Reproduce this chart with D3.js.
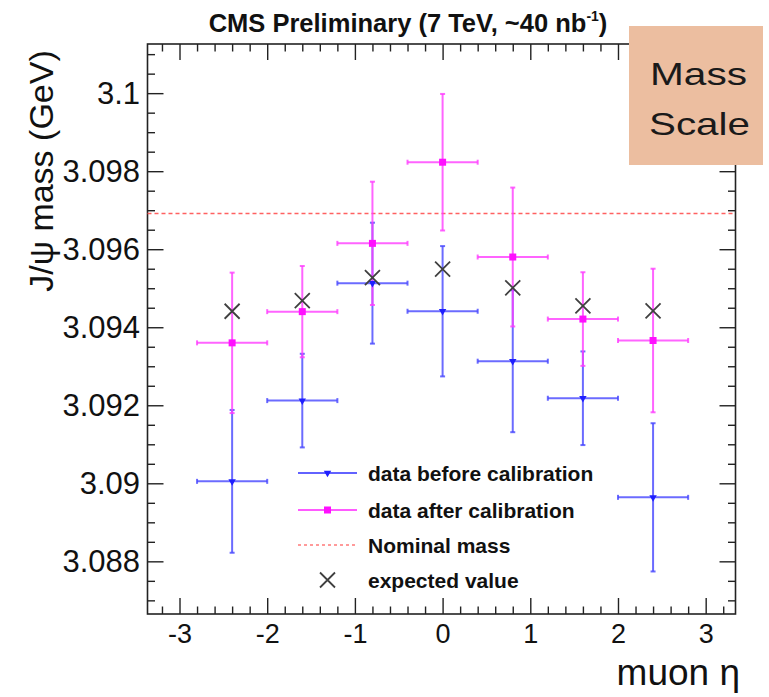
<!DOCTYPE html>
<html>
<head>
<meta charset="utf-8">
<script src="https://cdn.jsdelivr.net/npm/d3@7"></script>
<style>
  html, body { margin: 0; padding: 0; background: #fff; }
  svg { display: block; }
  text { font-family: "Liberation Sans", Arial, Helvetica, sans-serif; }
</style>
</head>
<body>
<div id="chart"></div>
<script>
// ---------------- data ----------------
const eta = [-2.4, -1.6, -0.8, 0, 0.8, 1.6, 2.4];
const etaHalfWidth = [0.4, 0.4, 0.4, 0.4, 0.4, 0.4, 0.4];
const massBefore = [3.09005, 3.09212, 3.09513, 3.09441, 3.09313, 3.09218, 3.08964];
const massBeforeErr = [0.00183, 0.0012, 0.00155, 0.00167, 0.00182, 0.0012, 0.0019];
const massAfter = [3.09360, 3.09440, 3.09615, 3.09823, 3.09580, 3.09421, 3.09366];
const massAfterErr = [0.0018, 0.00117, 0.00158, 0.00175, 0.00178, 0.0012, 0.00184];
const massExpected = [3.09441, 3.09468, 3.09527, 3.09549, 3.09501, 3.09455, 3.09442];
const nominalMass = 3.096916;
const yTicks = [3.088, 3.09, 3.092, 3.094, 3.096, 3.098, 3.1];
const yTickLabels = ["3.088", "3.09", "3.092", "3.094", "3.096", "3.098", "3.1"];
const xTicks = [-3, -2, -1, 0, 1, 2, 3];
const xTickLabels = ["-3", "-2", "-1", "0", "1", "2", "3"];
const legendLabels = ["data before calibration", "data after calibration", "Nominal mass", "expected value"];

// ---------------- layout ----------------
const W = 769, H = 697;
const L = 147.5, R = 735.5, T = 44, B = 614;
const blue = "#4646ff", pink = "#ff3dff", red = "#ff5050", xcol = "#404040";

const svg = d3.select("#chart").append("svg").attr("width", W).attr("height", H);

const x = d3.scaleLinear().domain([-3.365, 3.34]).range([L, R]);
const y = d3.scaleLinear().domain([3.08665, 3.10126]).range([B, T]);

// minor ticks
const yMinor = d3.range(3.0870, 3.1012, 0.0005).filter(v => !yTicks.some(t => Math.abs(t - v) < 1e-7));
const xMinor = d3.range(-3.2, 3.35, 0.2).filter(v => !xTicks.some(t => Math.abs(t - v) < 1e-7));

function styleAxis(g) {
  g.select(".domain").remove();
  g.selectAll(".tick line").attr("stroke", "#222").attr("stroke-width", 1.4);
}

// Left axis (major, labels)
svg.append("g").attr("transform", `translate(${L},0)`)
  .call(d3.axisLeft(y).tickValues(yTicks).tickSize(-16).tickPadding(7.5)
    .tickFormat((d, i) => yTickLabels[i]))
  .call(styleAxis)
  .call(g => g.selectAll("text").attr("font-size", 31).attr("fill", "#111")
    .attr("font-family", "'Liberation Sans', Arial, sans-serif"));
svg.append("g").attr("transform", `translate(${L},0)`)
  .call(d3.axisLeft(y).tickValues(yMinor).tickSize(-7.5).tickFormat(""))
  .call(styleAxis);
// Right axis
svg.append("g").attr("transform", `translate(${R},0)`)
  .call(d3.axisRight(y).tickValues(yTicks).tickSize(-16).tickFormat(""))
  .call(styleAxis);
svg.append("g").attr("transform", `translate(${R},0)`)
  .call(d3.axisRight(y).tickValues(yMinor).tickSize(-7.5).tickFormat(""))
  .call(styleAxis);
// Bottom axis
svg.append("g").attr("transform", `translate(0,${B})`)
  .call(d3.axisBottom(x).tickValues(xTicks).tickSize(-16).tickPadding(10)
    .tickFormat((d, i) => xTickLabels[i]))
  .call(styleAxis)
  .call(g => g.selectAll("text").attr("font-size", 27).attr("fill", "#111")
    .attr("font-family", "'Liberation Sans', Arial, sans-serif"));
svg.append("g").attr("transform", `translate(0,${B})`)
  .call(d3.axisBottom(x).tickValues(xMinor).tickSize(-7.5).tickFormat(""))
  .call(styleAxis);
// Top axis
svg.append("g").attr("transform", `translate(0,${T})`)
  .call(d3.axisTop(x).tickValues(xTicks).tickSize(-16).tickFormat(""))
  .call(styleAxis);
svg.append("g").attr("transform", `translate(0,${T})`)
  .call(d3.axisTop(x).tickValues(xMinor).tickSize(-7.5).tickFormat(""))
  .call(styleAxis);

// frame
svg.append("rect").attr("x", L).attr("y", T).attr("width", R - L).attr("height", B - T)
  .attr("fill", "none").attr("stroke", "#222").attr("stroke-width", 1.6);

// nominal mass line
svg.append("line").attr("x1", L).attr("x2", R).attr("y1", y(nominalMass)).attr("y2", y(nominalMass))
  .attr("stroke", red).attr("stroke-width", 1.6).attr("stroke-dasharray", "4,3").attr("opacity", 0.9);

// error bars
function errorBars(vals, errs, color, cls) {
  const g = svg.append("g").attr("class", cls).attr("stroke", color).attr("stroke-width", 2).attr("stroke-opacity", 0.8);
  const cap = 2.5;
  eta.forEach((e, i) => {
    const cx = x(e), cy = y(vals[i]);
    const x0 = x(e - etaHalfWidth[i]), x1 = x(e + etaHalfWidth[i]);
    const yt = y(vals[i] + errs[i]), yb = y(vals[i] - errs[i]);
    g.append("line").attr("x1", x0).attr("x2", x1).attr("y1", cy).attr("y2", cy);
    g.append("line").attr("x1", cx).attr("x2", cx).attr("y1", yt).attr("y2", yb);
    g.append("line").attr("x1", x0).attr("x2", x0).attr("y1", cy - cap).attr("y2", cy + cap);
    g.append("line").attr("x1", x1).attr("x2", x1).attr("y1", cy - cap).attr("y2", cy + cap);
    g.append("line").attr("x1", cx - cap).attr("x2", cx + cap).attr("y1", yt).attr("y2", yt);
    g.append("line").attr("x1", cx - cap).attr("x2", cx + cap).attr("y1", yb).attr("y2", yb);
  });
}
errorBars(massBefore, massBeforeErr, blue, "before");
errorBars(massAfter, massAfterErr, pink, "after");

const triDown = d3.symbol().type(d3.symbolTriangle).size(24);
function drawTri(g, cx, cy) {
  g.append("path").attr("d", triDown()).attr("transform", `translate(${cx},${cy}) rotate(180)`)
    .attr("fill", "#1f1fff");
}
function drawSq(g, cx, cy) {
  g.append("rect").attr("x", cx - 3.5).attr("y", cy - 3.5).attr("width", 7).attr("height", 7).attr("fill", "#ff10ff");
}
function drawX(g, cx, cy) {
  const s = 7.5;
  g.append("path").attr("d", `M${cx - s},${cy - s}L${cx + s},${cy + s}M${cx - s},${cy + s}L${cx + s},${cy - s}`)
    .attr("stroke", xcol).attr("stroke-width", 1.8).attr("fill", "none");
}
const markers = svg.append("g");
eta.forEach((e, i) => drawTri(markers, x(e), y(massBefore[i])));
eta.forEach((e, i) => drawSq(markers, x(e), y(massAfter[i])));
eta.forEach((e, i) => drawX(markers, x(e), y(massExpected[i])));

// legend
const leg = svg.append("g");
const legY = [473, 510, 545, 580];
const lx0 = 298, lx1 = 357, lxm = 327.5, ltx = 368;
leg.append("line").attr("x1", lx0).attr("x2", lx1).attr("y1", legY[0]).attr("y2", legY[0]).attr("stroke", blue).attr("stroke-width", 2).attr("stroke-opacity", 0.85);
drawTri(leg, lxm, legY[0]);
leg.append("line").attr("x1", lx0).attr("x2", lx1).attr("y1", legY[1]).attr("y2", legY[1]).attr("stroke", pink).attr("stroke-width", 2).attr("stroke-opacity", 0.85);
drawSq(leg, lxm, legY[1]);
leg.append("line").attr("x1", lx0).attr("x2", lx1).attr("y1", legY[2]).attr("y2", legY[2]).attr("stroke", "#ff9a9a").attr("stroke-width", 2).attr("stroke-dasharray", "3,3");
drawX(leg, lxm, legY[3]);
legendLabels.forEach((t, i) => {
  leg.append("text").attr("x", ltx).attr("y", legY[i]).attr("dy", "0.36em")
    .attr("font-size", 21).attr("font-weight", "bold").attr("fill", "#111").text(t);
});

// title
const title = svg.append("text").attr("x", 408).attr("y", 31.5).attr("text-anchor", "middle")
  .attr("font-size", 25.5).attr("font-weight", "bold").attr("fill", "#111");
title.append("tspan").text("CMS Preliminary (7 TeV, ~40 nb");
title.append("tspan").attr("font-size", 14).attr("dy", -11).text("-1");
title.append("tspan").attr("dy", 11).text(")");

// axis titles
svg.append("text").attr("transform", `translate(53,171) rotate(-90)`).attr("text-anchor", "middle")
  .attr("font-size", 34).attr("fill", "#111").text("J/ψ mass (GeV)");
svg.append("text").attr("x", 740).attr("y", 685).attr("text-anchor", "end")
  .attr("font-size", 37).attr("fill", "#111").text("muon η");

// Mass Scale box
svg.append("rect").attr("x", 629).attr("y", 26).attr("width", 134).attr("height", 139).attr("fill", "#ecbea0");
svg.append("text").attr("x", 650).attr("y", 85).attr("font-size", 32).attr("fill", "#1a1a1a")
  .attr("font-family", "Lato, 'Noto Sans', sans-serif")
  .attr("textLength", 97).attr("lengthAdjust", "spacingAndGlyphs").text("Mass");
svg.append("text").attr("x", 649).attr("y", 135).attr("font-size", 32).attr("fill", "#1a1a1a")
  .attr("font-family", "Lato, 'Noto Sans', sans-serif")
  .attr("textLength", 101).attr("lengthAdjust", "spacingAndGlyphs").text("Scale");
</script>
</body>
</html>
